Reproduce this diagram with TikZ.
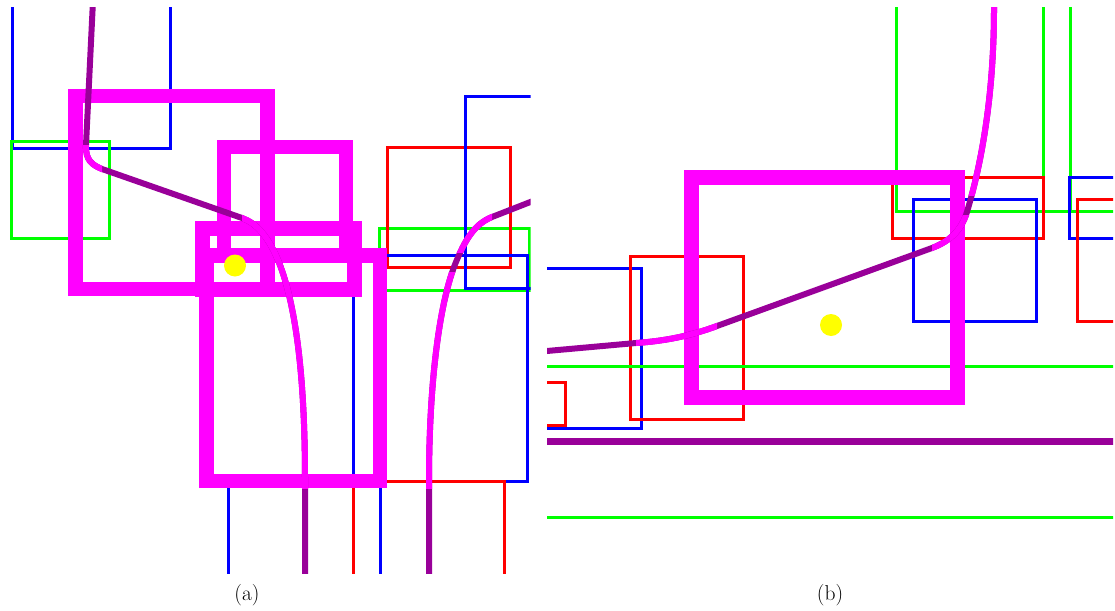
\documentclass[tikz,border=0pt]{standalone}
\definecolor{pgreen}{RGB}{0,255,0}
\definecolor{pblue}{RGB}{0,0,255}
\definecolor{pred}{RGB}{255,0,0}
\definecolor{ppurple}{RGB}{153,0,153}
\definecolor{pmag}{RGB}{255,0,255}
\definecolor{pyellow}{RGB}{255,255,0}
\tikzset{
  bluel/.style={draw=pblue,line width=3pt},
  greenl/.style={draw=pgreen,line width=3pt},
  redl/.style={draw=pred,line width=3pt},
  magbox/.style={draw=pmag,line width=14.5pt},
  route/.style={draw=ppurple,line width=6pt},
  routehi/.style={draw=pmag,line width=6pt},
  dot/.style={fill=pyellow},
  caption/.style={font=\fontsize{21.5}{25}\selectfont, inner sep=0pt}
}
\def\pathA{(94,-20) -- (86,145) .. controls (85.3,160) and (92,165) .. (102,169) -- (242,218) .. controls (300,238) and (305,400) .. (305,481) -- (305,600)}
\def\pathB{(429,600) -- (429,481) .. controls (429,380) and (440,300) .. (456,262) .. controls (464,243) and (473,224.5) .. (492,217) -- (560,190.4)}
\def\pathC{(994,-20) -- (994,8) .. controls (994,100) and (980,170) .. (966,215) .. controls (960,232) and (948,242) .. (932,248) -- (717,326) .. controls (690,336) and (665,341) .. (636,343) -- (500,355.2)}
\begin{document}
\begin{tikzpicture}[x=1pt,y=-1pt]
\useasboundingbox (0,0) rectangle (1115,610);
% ---------------- panel (a)
\begin{scope}
\clip (10,8) rectangle (530.5,573);
\draw[bluel] (12,-20) rectangle (170,148);
\draw[greenl] (11,141) rectangle (109,238);
\draw[greenl] (379,228) rectangle (529,290);
\draw[redl] (387,147) rectangle (510,267);
\draw[bluel] (465,96) rectangle (560,288);
\draw[bluel] (353,255) rectangle (527,481);
\draw[bluel] (228,481) rectangle (380,600);
\draw[redl] (353,481) rectangle (504,600);
\draw[magbox] (75.5,96) rectangle (267.5,289);
\draw[magbox] (224,147) rectangle (346,255);
\draw[magbox] (202.5,228.5) rectangle (354.5,289.5);
\draw[magbox] (206.5,255.5) rectangle (380,481);
\draw[route] \pathA;
\draw[route] \pathB;
\begin{scope}\clip (0,145) rectangle (102,200); \draw[routehi] \pathA; \end{scope}
\begin{scope}\clip (242,200) rectangle (330,488); \draw[routehi] \pathA; \end{scope}
\begin{scope}\clip (400,272) rectangle (470,488); \draw[routehi] \pathB; \end{scope}
\begin{scope}\clip (450,205) rectangle (492,252); \draw[routehi] \pathB; \end{scope}
\fill[dot] (235,265.5) circle (11);
\end{scope}
% ---------------- panel (b)
\begin{scope}
\clip (547,8) rectangle (1113,573);
\draw[bluel] (500,268) rectangle (641,428);
\draw[redl] (500,382) rectangle (565,425);
\draw[redl] (630,256) rectangle (743,419);
\draw[greenl] (500,366) -- (1150,366);
\draw[greenl] (500,517) -- (1150,517);
\draw[draw=ppurple,line width=7pt] (500,441.5) -- (1150,441.5);
\draw[greenl] (896,-20) rectangle (1070,211);
\draw[greenl] (1043,-20) rectangle (1150,211);
\draw[redl] (892,177) rectangle (1043,238);
\draw[bluel] (913,199) rectangle (1036,321);
\draw[bluel] (1069,177) rectangle (1150,238);
\draw[redl] (1077,199) rectangle (1150,321);
\draw[magbox] (691.5,177.5) rectangle (957.5,397.5);
\draw[route] \pathC;
\begin{scope}\clip (900,-20) rectangle (1010,195); \draw[routehi] \pathC; \end{scope}
\begin{scope}\clip (932,215) rectangle (975,260); \draw[routehi] \pathC; \end{scope}
\begin{scope}\clip (636,300) rectangle (717,360); \draw[routehi] \pathC; \end{scope}
\fill[dot] (831,325) circle (11);
\end{scope}
\node[caption] (capa) at (247,595) {(a)};
\node[caption] (capb) at (830,595) {(b)};
\end{tikzpicture}
\end{document}
